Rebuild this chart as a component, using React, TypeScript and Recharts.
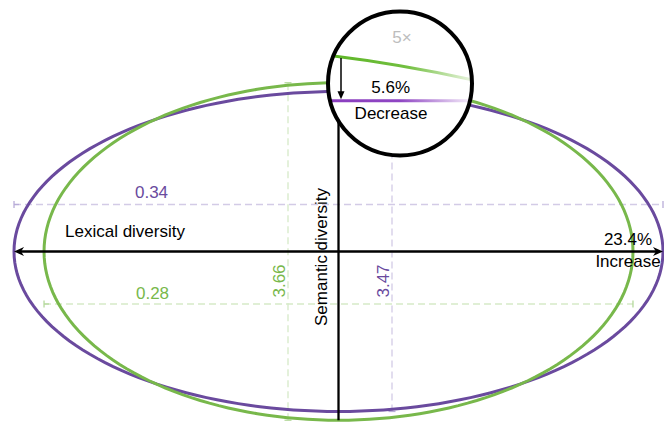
import React from 'react';
import { ComposedChart, Line, XAxis, YAxis, ReferenceLine, ReferenceDot } from 'recharts';

// two generation runs compared on lexical and semantic diversity
const runs = ['before', 'after'];
const lexical = [0.28, 0.34];
const semantic = [3.66, 3.47];
const lexicalText = ['0.28', '0.34'];
const semanticText = ['3.66', '3.47'];
const axisTitles = ['Lexical diversity', 'Semantic diversity'];
const changeValues = ['23.4%', '5.6%'];
const changeWords = ['Increase', 'Decrease'];
const zoomFactor = 5;
const zoomText = '5×';

const W = 664;
const H = 423;
// lexical axis is square-root scaled, semantic axis linear
const LEX_DOMAIN: [number, number] = [-0.37, 0.3421];
const SEM_DOMAIN: [number, number] = [-3.72, 5.455];
const PX_PER_SEM = H / (SEM_DOMAIN[1] - SEM_DOMAIN[0]);

const colors = ['#78b84b', '#6a4a9e'];
const dashColors = ['#d6eac8', '#d3cbe6'];
const capColors = ['#b5d99c', '#b8acd8'];
const FONT = '"Liberation Sans", Arial, Helvetica, sans-serif';

// layout spots (pixels) for the dimension lines and labels
const lexLineY = [304, 204.5];
const semLineX = [288, 392];
const lexLabelPos = [[152.5, 299], [151.5, 197.5]];
const semLabelPos = [[285, 281], [389, 281]];

// closed ellipse outline; x is pre-squared so the sqrt axis draws a true ellipse
function outline(lex: number, sem: number) {
  const pts: { x: number; y: number }[] = [];
  const steps = 180;
  for (let i = 0; i <= steps; i++) {
    const t = (i / steps) * Math.PI * 2;
    const c = Math.cos(t);
    pts.push({ x: Math.sign(c) * lex * c * c, y: sem * Math.sin(t) });
  }
  return pts;
}

const dimShape = (i: number) => (p: any) => {
  const { x1, y1, x2, y2 } = p;
  const horiz = Math.abs(x2 - x1) > Math.abs(y2 - y1);
  const cap = 3.5;
  return (
    <g>
      <line x1={x1} y1={y1} x2={x2} y2={y2} stroke={dashColors[i]} strokeWidth={1.3} strokeDasharray="7 4" />
      {horiz ? (
        <>
          <line x1={x1} y1={y1 - cap} x2={x1} y2={y1 + cap} stroke={capColors[i]} strokeWidth={1.3} />
          <line x1={x1} y1={y1} x2={x1 + 5} y2={y1} stroke={capColors[i]} strokeWidth={1.3} />
          <line x1={x2} y1={y2 - cap} x2={x2} y2={y2 + cap} stroke={capColors[i]} strokeWidth={1.3} />
        </>
      ) : (
        <>
          <line x1={x1 - cap} y1={y1} x2={x1 + cap} y2={y1} stroke={capColors[i]} strokeWidth={1.3} />
          <line x1={x2 - cap} y1={y2} x2={x2 + cap} y2={y2} stroke={capColors[i]} strokeWidth={1.3} />
        </>
      )}
    </g>
  );
};

const arrowAxis = (p: any) => {
  const { x1, y1, x2, y2 } = p;
  const l = 10;
  const w = 4.5;
  return (
    <g>
      <line x1={x1 + 4} y1={y1} x2={x2 - 4} y2={y2} stroke="#000" strokeWidth={2.4} />
      <path d={`M${x1},${y1} L${x1 + l},${y1 - w} L${x1 + l - 3},${y1} L${x1 + l},${y1 + w} Z`} fill="#000" />
      <path d={`M${x2},${y2} L${x2 - l},${y2 - w} L${x2 - l + 3},${y2} L${x2 - l},${y2 + w} Z`} fill="#000" />
    </g>
  );
};

const plainLine = (p: any) => (
  <line x1={p.x1} y1={p.y1} x2={p.x2} y2={p.y2} stroke="#000" strokeWidth={2.3} />
);

const textShape = (label: string, color: string, rotate = false) => (p: any) => (
  <text
    x={p.cx}
    y={p.cy}
    fill={color}
    fontSize={17}
    fontFamily={FONT}
    textAnchor="middle"
    transform={rotate ? `rotate(-90 ${p.cx} ${p.cy})` : undefined}
  >
    {label}
  </text>
);

// 5x lens over the tops of the two ellipses
const magnifier = (p: any) => {
  const { cx, cy } = p;
  const R = 72;
  const gY = cy - 26.5;
  const pY = gY + zoomFactor * (semantic[0] - semantic[1]) * PX_PER_SEM;
  const ax = cx - 59;
  return (
    <g>
      <defs>
        <clipPath id="lens">
          <circle cx={cx} cy={cy} r={R} />
        </clipPath>
        <linearGradient id="lensGreen" gradientUnits="userSpaceOnUse" x1={cx - R} y1={0} x2={cx + R} y2={0}>
          <stop offset="0" stopColor="#5cb524" />
          <stop offset="0.55" stopColor="#72bf40" />
          <stop offset="1" stopColor="#eaf5e0" />
        </linearGradient>
        <linearGradient id="lensPurple" gradientUnits="userSpaceOnUse" x1={cx - R} y1={0} x2={cx + R} y2={0}>
          <stop offset="0" stopColor="#8a3dbf" />
          <stop offset="0.5" stopColor="#8f46c3" />
          <stop offset="1" stopColor="#f6effa" />
        </linearGradient>
      </defs>
      <circle cx={cx} cy={cy} r={R} fill="#fff" />
      <g clipPath="url(#lens)">
        <path
          d={`M${cx - R},${gY - 1.8} Q${cx},${gY + 7} ${cx + R},${gY + 22.7}`}
          fill="none"
          stroke="url(#lensGreen)"
          strokeWidth={3}
        />
        <path d={`M${cx - R},${pY} L${cx + R},${pY}`} fill="none" stroke="url(#lensPurple)" strokeWidth={3} />
      </g>
      <line x1={ax} y1={gY + 1} x2={ax} y2={pY - 8} stroke="#000" strokeWidth={1.5} />
      <path d={`M${ax},${pY - 1.5} L${ax - 3.5},${pY - 9.5} L${ax + 3.5},${pY - 9.5} Z`} fill="#000" />
      <text x={cx + 2} y={cy - 40.2} fill="#bdbdbd" fontSize={17} fontFamily={FONT} textAnchor="middle">
        {zoomText}
      </text>
      <text x={cx - 9.3} y={cy + 9.8} fill="#000" fontSize={17} fontFamily={FONT} textAnchor="middle">
        {changeValues[1]}
      </text>
      <text x={cx - 9} y={cy + 35.5} fill="#000" fontSize={17} fontFamily={FONT} textAnchor="middle">
        {changeWords[1]}
      </text>
      <circle cx={cx} cy={cy} r={R} fill="none" stroke="#000" strokeWidth={4} />
    </g>
  );
};

export default function App() {
  const order = [1, 0];
  return (
    <div style={{ position: 'absolute', left: 0, top: 0, width: W, height: H }}>
      <ComposedChart width={W} height={H} margin={{ top: 0, right: 0, bottom: 0, left: 0 }}>
        <XAxis xAxisId="lex" type="number" dataKey="x" scale="sqrt" domain={LEX_DOMAIN} allowDataOverflow hide />
        <YAxis yAxisId="sem" type="number" dataKey="y" domain={SEM_DOMAIN} allowDataOverflow hide />
        <XAxis xAxisId="px" type="number" dataKey="px" domain={[0, W]} allowDataOverflow hide />
        <YAxis yAxisId="py" type="number" dataKey="py" domain={[0, H]} reversed allowDataOverflow hide />

        {runs.map((r, i) => (
          <ReferenceLine
            key={`lexdim-${r}`}
            xAxisId="lex"
            yAxisId="py"
            segment={[{ x: -lexical[i], y: lexLineY[i] }, { x: lexical[i], y: lexLineY[i] }]}
            shape={dimShape(i)}
          />
        ))}
        {runs.map((r, i) => (
          <ReferenceLine
            key={`semdim-${r}`}
            xAxisId="px"
            yAxisId="sem"
            segment={[{ x: semLineX[i], y: -semantic[i] }, { x: semLineX[i], y: semantic[i] }]}
            shape={dimShape(i)}
          />
        ))}

        {order.map((i) => (
          <Line
            key={runs[i]}
            xAxisId="lex"
            yAxisId="sem"
            data={outline(lexical[i], semantic[i])}
            dataKey="y"
            type="linear"
            stroke={colors[i]}
            strokeWidth={3}
            dot={false}
            activeDot={false}
            isAnimationActive={false}
          />
        ))}

        <ReferenceLine
          xAxisId="lex"
          yAxisId="sem"
          segment={[{ x: -Math.max(...lexical), y: 0 }, { x: Math.max(...lexical), y: 0 }]}
          shape={arrowAxis}
        />
        <ReferenceLine
          xAxisId="lex"
          yAxisId="sem"
          segment={[{ x: 0, y: -semantic[0] }, { x: 0, y: semantic[0] }]}
          shape={plainLine}
        />

        {runs.map((r, i) => (
          <ReferenceDot
            key={`lexlab-${r}`}
            xAxisId="px"
            yAxisId="py"
            x={lexLabelPos[i][0]}
            y={lexLabelPos[i][1]}
            r={0}
            shape={textShape(lexicalText[i], colors[i])}
          />
        ))}
        {runs.map((r, i) => (
          <ReferenceDot
            key={`semlab-${r}`}
            xAxisId="px"
            yAxisId="py"
            x={semLabelPos[i][0]}
            y={semLabelPos[i][1]}
            r={0}
            shape={textShape(semanticText[i], colors[i], true)}
          />
        ))}
        <ReferenceDot xAxisId="px" yAxisId="py" x={125} y={236.5} r={0} shape={textShape(axisTitles[0], '#000')} />
        <ReferenceDot xAxisId="px" yAxisId="py" x={327} y={257} r={0} shape={textShape(axisTitles[1], '#000', true)} />
        <ReferenceDot xAxisId="px" yAxisId="py" x={628} y={245} r={0} shape={textShape(changeValues[0], '#000')} />
        <ReferenceDot xAxisId="px" yAxisId="py" x={628} y={267} r={0} shape={textShape(changeWords[0], '#000')} />

        <ReferenceDot xAxisId="px" yAxisId="py" x={400} y={83.5} r={0} shape={magnifier} />
      </ComposedChart>
    </div>
  );
}
